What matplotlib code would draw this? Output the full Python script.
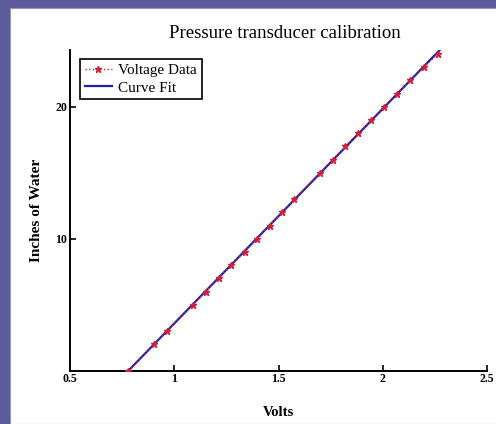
import numpy as np
import matplotlib
matplotlib.use("Agg")
import matplotlib.pyplot as plt
from matplotlib.patches import Rectangle

# calibration readings (volts, inches of water)
volts = [0.78, 0.905, 0.965, 1.09, 1.15, 1.213, 1.272, 1.337, 1.397, 1.457,
         1.517, 1.576, 1.701, 1.762, 1.821, 1.882, 1.946, 2.005, 2.069, 2.13,
         2.197, 2.265]
inches = [0, 2, 3, 5, 6, 7, 8, 9, 10, 11, 12, 13, 15, 16, 17, 18, 19, 20,
          21, 22, 23, 24]
# linear fit coefficients (slope, intercept)
fit_coef = [16.27, -12.69]
fit_range = [0.78, 2.275]

xticks = [0.5, 1, 1.5, 2, 2.5]
xticklabels = ["0.5", "1", "1.5", "2", "2.5"]
yticks = [10, 20]

plt.rcParams['font.family'] = ['Liberation Serif', 'DejaVu Serif']

fig = plt.figure(figsize=(4.96, 4.24), dpi=100)
fig.patch.set_facecolor("#5b5b9c")
# white slide panel
fig.patches.append(Rectangle((10/496, 0), 1, (424-8)/424, transform=fig.transFigure,
                             facecolor="white", edgecolor="#9a9ab8", linewidth=0.8, zorder=-10))

ax = fig.add_axes([70/496, (424-370.7)/424, 417/496, 320.7/424])
ax.set_facecolor("none")

xf = np.array(fit_range)
ax.plot(xf, fit_coef[0]*xf + fit_coef[1], color="#1f1fa8", lw=1.6, label="Curve Fit", zorder=2)
ax.plot(volts, inches, color="#d0203c", ls=":", lw=1.0, marker="*", ms=5,
        label="Voltage Data", zorder=3)

ax.set_xlim(0.5, 2.5)
ax.set_ylim(0, 24.3)
ax.set_xticks(xticks)
ax.set_xticklabels(xticklabels, fontweight="bold", fontsize=8.5)
ax.set_yticks(yticks)
ax.set_yticklabels([str(v) for v in yticks], fontweight="bold", fontsize=8.5)
ax.tick_params(direction="in", length=4, width=1.2, pad=2)
for s in ["top", "right"]:
    ax.spines[s].set_visible(False)
for s in ["left", "bottom"]:
    ax.spines[s].set_linewidth(1.4)

ax.set_title("Pressure transducer calibration", fontsize=13.5, pad=9, x=0.515)
ax.set_xlabel("Volts", fontweight="bold", fontsize=10.5, labelpad=15)
ax.set_ylabel("Inches of Water", fontweight="bold", fontsize=11, labelpad=9)

h, l = ax.get_legend_handles_labels()
leg = ax.legend(h[::-1], l[::-1], loc="upper left", bbox_to_anchor=(0.024, 0.972),
                fancybox=False, framealpha=1, edgecolor="black", fontsize=11,
                handlelength=1.8, handletextpad=0.4, borderpad=0.3, labelspacing=0.25,
                borderaxespad=0)
leg.get_frame().set_linewidth(1.2)

plt.savefig("out.png", dpi=100, facecolor=fig.get_facecolor())
